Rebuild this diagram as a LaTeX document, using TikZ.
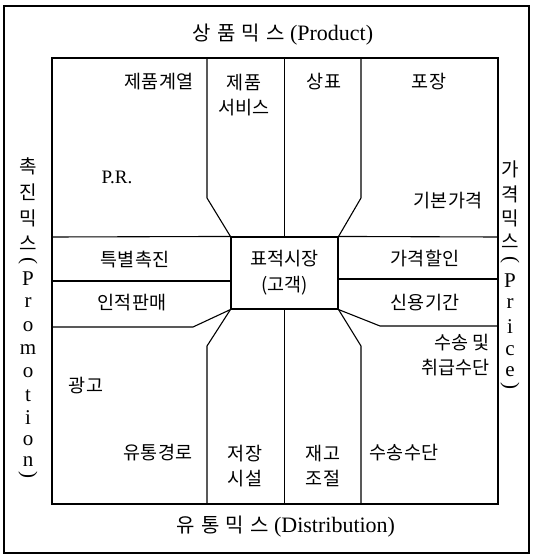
\documentclass[tikz,border=0pt]{standalone}
\usepackage{fontspec}
\setmainfont{Liberation Serif}
\newfontfamily\cjk{Noto Sans CJK KR}
\tikzset{
  ln/.style={line width=1.1pt, line join=miter},
  kt/.style={font=\cjk\fontsize{18.5}{25}\selectfont, inner sep=0pt, align=center},
  ttl/.style={font=\fontsize{22}{26}\selectfont, inner sep=0pt},
  vt/.style={font=\fontsize{21}{24}\selectfont, inner sep=0pt},
  vk/.style={font=\cjk\fontsize{19}{22}\selectfont, inner sep=0pt},
  centerbox/.style={draw, line width=1.1pt, minimum width=107pt, minimum height=72pt, inner sep=0pt, align=center, font=\cjk\fontsize{18.5}{26}\selectfont}
}
\newcommand{\ttlk}[1]{{\cjk\fontsize{20}{26}\selectfont\spaceskip=6pt #1}}
\begin{document}
\begin{tikzpicture}[x=1pt,y=-1pt]
\useasboundingbox (0,0) rectangle (532,556);
% frames
\draw[ln] (4,6) rectangle (529,553);
\draw[ln] (52,58) rectangle (498,504);
% center
\node[centerbox] (tm) at (284.5,273) {표적시장\\(고객)};
% coordinates
\coordinate (t1) at (207,58);  \coordinate (t1b) at (207,198);
\coordinate (t2) at (284.5,58);
\coordinate (t3) at (361,58);  \coordinate (t3b) at (361,198);
\coordinate (l1) at (52,237);
\coordinate (l2) at (52,281);  \coordinate (l2e) at (231,281);
\coordinate (l3) at (52,327);  \coordinate (l3b) at (193,327);
\coordinate (r1) at (498,237);
\coordinate (r2) at (498,279); \coordinate (r2e) at (338,279);
\coordinate (r3) at (498,326); \coordinate (r3b) at (380,326);
\coordinate (b1a) at (207,346); \coordinate (b1) at (207,504);
\coordinate (b2) at (284.5,504);
\coordinate (b3a) at (361,346); \coordinate (b3) at (361,504);
% lines
\draw[ln] (t1) -- (t1b) -- (tm.north west);
\draw[ln] (t2) -- (tm.north);
\draw[ln] (t3) -- (t3b) -- (tm.north east);
\draw[ln] (l1) -- (tm.north west);
\draw[ln] (l2) -- (l2e);
\draw[ln] (l3) -- (l3b) -- (tm.south west);
\draw[ln] (r1) -- (tm.north east);
\draw[ln] (r2) -- (r2e);
\draw[ln] (r3) -- (r3b) -- (tm.south east);
\draw[ln] (tm.south west) -- (b1a) -- (b1);
\draw[ln] (tm.south) -- (b2);
\draw[ln] (tm.south east) -- (b3a) -- (b3);
% titles
\node[ttl] (tp) at (283,35) {\ttlk{상 품 믹 스} (Product)};
\node[ttl] (td) at (286,527) {\ttlk{유 통 믹 스} (Distribution)};
% cell texts
\node[kt] (a1) at (159,82) {제품계열};
\node[kt] (a2) at (244,95) {제품\\서비스};
\node[kt] (a3) at (324,82) {상표};
\node[kt] (a4) at (429,82) {포장};
\node[font=\fontsize{19}{22}\selectfont, inner sep=0pt] (pr) at (117,177) {P.R.};
\node[kt] (a5) at (448,201) {기본가격};
\node[kt] (a6) at (135,260) {특별촉진};
\node[kt] (a7) at (132,303) {인적판매};
\node[kt] (a8) at (425,258) {가격할인};
\node[kt] (a9) at (425,303) {신용기간};
\node[kt, anchor=east, align=right] (a10) at (490,355) {수송 및\\취급수단};
\node[kt] (a11) at (86,386) {광고};
\node[kt] (a12) at (158,453) {유통경로};
\node[kt] (a13) at (245,466) {저장\\시설};
\node[kt] (a14) at (323,466) {재고\\조절};
\node[kt] (a15) at (404,453) {수송수단};
% left vertical
\node[vk] (p1) at (28,166) {촉};
\node[vk] (p2) at (28,192) {진};
\node[vk] (p3) at (28,218) {믹};
\node[vk] (p4) at (28,243) {스};
\node[vt, rotate=-90] (p5) at (28,261) {(};
\node[vt] (p6) at (28,279) {P};
\node[vt] (p7) at (28,303) {r};
\node[vt] (p8) at (28,327) {o};
\node[vt] (p9) at (28,350) {m};
\node[vt] (p10) at (28,373) {o};
\node[vt] (p11) at (28,396) {t};
\node[vt] (p12) at (28,418) {i};
\node[vt] (p13) at (28,441) {o};
\node[vt] (p14) at (28,462) {n};
\node[vt, rotate=-90] (p15) at (28,475) {)};
% right vertical
\node[vk] (q1) at (510,169) {가};
\node[vk] (q2) at (510,194) {격};
\node[vk] (q3) at (510,218) {믹};
\node[vk] (q4) at (510,241) {스};
\node[vt, rotate=-90] (q5) at (510,260) {(};
\node[vt] (q6) at (510,281) {P};
\node[vt] (q7) at (510,304) {r};
\node[vt] (q8) at (510,327) {i};
\node[vt] (q9) at (510,351) {c};
\node[vt] (q10) at (510,372) {e};
\node[vt, rotate=-90] (q11) at (510,386) {)};
\end{tikzpicture}
\end{document}
